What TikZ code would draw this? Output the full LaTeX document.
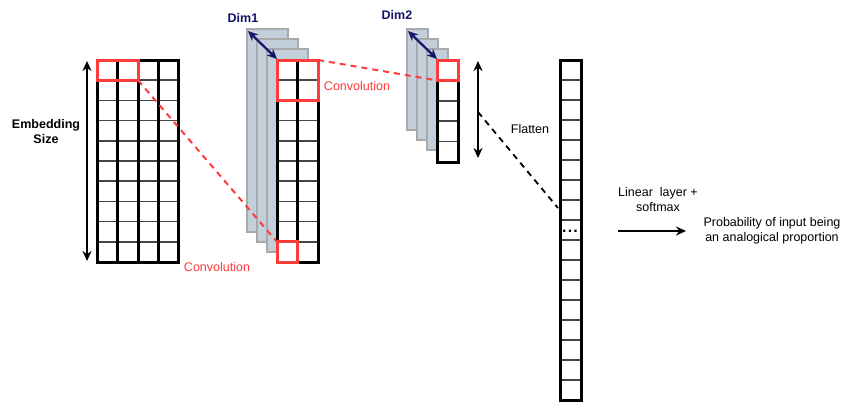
\documentclass[tikz,border=0pt]{standalone}
\usepackage{fontspec}
\setmainfont{Liberation Sans}
\usetikzlibrary{arrows.meta}
\definecolor{convred}{HTML}{FF3B3B}
\definecolor{layerfill}{HTML}{C3CFDB}
\definecolor{layerdraw}{HTML}{A9A9A9}
\definecolor{dimblue}{HTML}{14146B}
\definecolor{rowgray}{HTML}{444444}
\tikzset{
  border/.style={draw=black,line width=3pt},
  vline/.style={draw=black,line width=3pt},
  hline/.style={draw=rowgray,line width=1.5pt},
  redbox/.style={draw=convred,line width=3pt},
  layer/.style={draw=layerdraw,fill=layerfill,line width=2.2pt},
  reddash/.style={draw=convred,line width=2pt,dash pattern=on 6pt off 5pt},
  blackdash/.style={draw=black,line width=1.8pt,dash pattern=on 6pt off 5pt},
  dimarrow/.style={draw=dimblue,line width=2.2pt,{Stealth[length=10pt,width=9pt]}-{Stealth[length=10pt,width=9pt]}},
  sizearrow/.style={draw=black,line width=2pt,{Stealth[length=10pt,width=9pt]}-{Stealth[length=10pt,width=9pt]}},
  outarrow/.style={draw=black,line width=2pt,-{Stealth[length=10pt,width=9pt]}},
  lbl/.style={font=\fontsize{12.5}{15}\selectfont,inner sep=0pt,align=center},
  boldlbl/.style={lbl,font=\fontsize{12.5}{15}\selectfont\bfseries},
  redlbl/.style={lbl,text=convred},
  dimlbl/.style={boldlbl,text=dimblue}
}
\begin{document}
\begin{tikzpicture}[x=1pt,y=-1pt]
\useasboundingbox (0,0) rectangle (846,402);
\fill[white] (0,0) rectangle (846,402);

% ---------- input embedding grid ----------
\foreach \i in {1,...,9} \draw[hline] (97,60+20.2*\i) -- (178,60+20.2*\i);
\foreach \x in {117.5,138,158} \draw[vline] (\x,60) -- (\x,262);
\draw[border] (97,60) rectangle (178,262);
\draw[redbox] (97,60) rectangle (138,80.2);
\coordinate (inRed) at (138,80.2);

\coordinate (esTop) at (87,61);
\coordinate (esBot) at (87,261);
\draw[sizearrow] (esTop) -- (esBot);
\node[boldlbl] (es) at (46,132) {Embedding\\Size};

% ---------- first feature map stack ----------
\draw[layer] (247,29) rectangle (288,232);
\draw[layer] (257,39) rectangle (298,242);
\draw[layer] (267,49) rectangle (308,252);
\fill[white] (277,60) rectangle (318,262);
\foreach \i in {1,...,9} \draw[hline] (277,60+20.2*\i) -- (318,60+20.2*\i);
\draw[vline] (297.5,60) -- (297.5,262);
\draw[border] (277,60) rectangle (318,262);
\draw[redbox] (277,60) rectangle (318,100.4);
\draw[redbox] (277,241.8) rectangle (297.5,262);
\coordinate (fmBotRed) at (277,241.8);
\coordinate (fmTopRed) at (318,60);

\coordinate (d1a) at (248,31);
\coordinate (d1b) at (277,59);
\draw[dimarrow] (d1a) -- (d1b);
\node[dimlbl] (dim1) at (243,18) {Dim1};

\draw[reddash] (inRed) -- (fmBotRed);
\node[redlbl] (conv1) at (217,267) {Convolution};

% ---------- second feature map stack ----------
\draw[layer] (407,29) rectangle (428,130);
\draw[layer] (417,39) rectangle (438,140);
\draw[layer] (427,49) rectangle (448,150);
\fill[white] (437,60) rectangle (458,162);
\foreach \i in {1,...,4} \draw[hline] (437,60+20.4*\i) -- (458,60+20.4*\i);
\draw[border] (437,60) rectangle (458,162);
\draw[redbox] (437,60) rectangle (458,80.4);
\coordinate (sRed) at (437,80.4);

\coordinate (d2a) at (408,31);
\coordinate (d2b) at (437,59);
\draw[dimarrow] (d2a) -- (d2b);
\node[dimlbl] (dim2) at (397,15) {Dim2};

\draw[reddash] (fmTopRed) -- (sRed);
\node[redlbl] (conv2) at (357,86) {Convolution};

% ---------- flatten ----------
\coordinate (flTop) at (478,61);
\coordinate (flBot) at (478,158);
\draw[sizearrow] (flTop) -- (flBot);
\coordinate (flMid) at (478,112);
\coordinate (colHit) at (558,208);
\draw[blackdash] (flMid) -- (colHit);
\node[lbl] (flatten) at (530,129) {Flatten};

% ---------- flattened column ----------
\foreach \i in {1,...,16} \draw[hline] (560,60+20*\i) -- (581,60+20*\i);
\draw[border] (560,60) rectangle (581,400.5);
\node[lbl,font=\fontsize{16}{16}\selectfont\bfseries] (dots) at (570,231) {.\kern1.2pt.\kern1.2pt.};

% ---------- output ----------
\node[lbl] (linear) at (658,200) {Linear\ \ layer +\\softmax};
\coordinate (oa) at (618,231);
\coordinate (ob) at (686,231);
\draw[outarrow] (oa) -- (ob);
\node[lbl] (prob) at (772,231) {Probability of input being\\an analogical proportion};
\end{tikzpicture}
\end{document}
